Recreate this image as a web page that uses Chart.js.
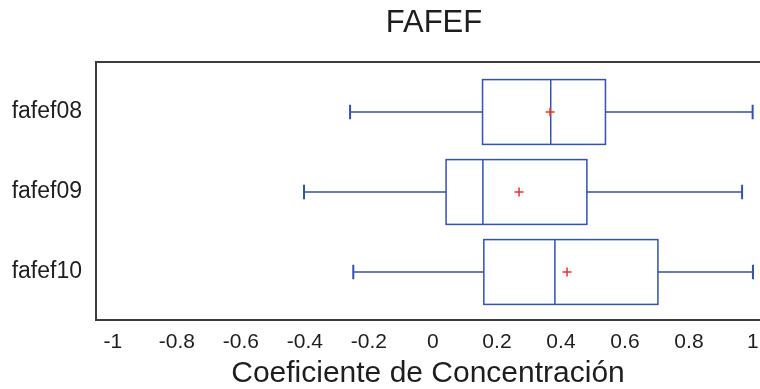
<!DOCTYPE html>
<html>
<head>
<meta charset="utf-8">
<script src="https://cdn.jsdelivr.net/npm/chart.js@4/dist/chart.umd.min.js"></script>
<style>
  html, body { margin: 0; padding: 0; background: #fff; }
  #wrap { width: 760px; height: 389px; }
</style>
</head>
<body>
<div id="wrap"><canvas id="chart"></canvas></div>
<script>
// values
const categories = ['fafef08', 'fafef09', 'fafef10'];
const minVals    = [-0.259, -0.403, -0.249];
const q1Vals     = [0.155, 0.041, 0.159];
const medianVals = [0.368, 0.156, 0.381];
const q3Vals     = [0.539, 0.481, 0.703];
const maxVals    = [0.999, 0.966, 1.0];
const meanVals   = [0.366, 0.269, 0.419];
const xTicks     = [-1, -0.8, -0.6, -0.4, -0.2, 0, 0.2, 0.4, 0.6, 0.8, 1];

const FONT = 'Liberation Sans, Arial, sans-serif';
const BLUE = '#3152b0';

const boxPlugin = {
    id: 'boxes',
    beforeDatasetsDraw(chart) {
        const { ctx: c, scales } = chart;
        const { x, y } = scales;
        c.save();
        c.strokeStyle = BLUE;
        categories.forEach((cat, i) => {
            const row = i + 1;
            const yc = y.getPixelForValue(row);
            const yTop = y.getPixelForValue(row - 0.405);
            const yBot = y.getPixelForValue(row + 0.405);
            const capTop = y.getPixelForValue(row - 0.09);
            const capBot = y.getPixelForValue(row + 0.09);
            const xMin = x.getPixelForValue(minVals[i]);
            const xQ1 = x.getPixelForValue(q1Vals[i]);
            const xMed = x.getPixelForValue(medianVals[i]);
            const xQ3 = x.getPixelForValue(q3Vals[i]);
            const xMax = x.getPixelForValue(maxVals[i]);

            // whiskers
            c.lineWidth = 1.5;
            c.beginPath();
            c.moveTo(xMin, yc); c.lineTo(xQ1, yc);
            c.moveTo(xQ3, yc); c.lineTo(xMax, yc);
            c.stroke();
            c.lineWidth = 2;
            c.beginPath();
            c.moveTo(xMin, capTop); c.lineTo(xMin, capBot);
            c.moveTo(xMax, capTop); c.lineTo(xMax, capBot);
            c.stroke();

            // box + median
            c.lineWidth = 1.5;
            c.strokeRect(xQ1, yTop, xQ3 - xQ1, yBot - yTop);
            c.beginPath();
            c.moveTo(xMed, yTop); c.lineTo(xMed, yBot);
            c.stroke();
        });
        c.restore();
    },
    afterDraw(chart) {
        const { ctx: c, chartArea } = chart;
        const { left, top, right, bottom } = chartArea;
        c.save();
        // frame: left, top, bottom (right edge runs off the canvas)
        c.strokeStyle = '#3c3c3c';
        c.lineWidth = 2;
        c.beginPath();
        c.moveTo(right, top); c.lineTo(left, top);
        c.lineTo(left, bottom); c.lineTo(right, bottom);
        c.stroke();
        // title
        c.fillStyle = '#1e1e1e';
        c.font = '31px ' + FONT;
        c.textAlign = 'center';
        c.textBaseline = 'middle';
        c.fillText('FAFEF', 434, 23);
        c.restore();
    }
};

new Chart(document.getElementById('chart'), {
    type: 'scatter',
    data: {
        datasets: [{
            label: 'Media',
            data: meanVals.map((v, i) => ({ x: v, y: i + 1 })),
            pointStyle: 'cross',
            pointRadius: 4.5,
            pointBorderWidth: 1.5,
            borderColor: '#ff2a2a',
            backgroundColor: '#ff2a2a',
        }]
    },
    options: {
        responsive: true,
        maintainAspectRatio: false,
        animation: false,
        layout: { autoPadding: false, padding: { top: 62, left: 0, right: 0, bottom: 0 } },
        plugins: {
            legend: { display: false },
            tooltip: { enabled: false },
            title: { display: false }
        },
        scales: {
            x: {
                type: 'linear',
                min: -1.053,
                max: 1.022,
                afterBuildTicks: s => { s.ticks = xTicks.map(v => ({ value: v })); },
                afterFit: s => { s.height = 69; s.paddingLeft = 0; s.paddingRight = 0; },
                ticks: {
                    color: '#1e1e1e',
                    font: { family: FONT, size: 21 },
                    padding: 10,
                    maxRotation: 0,
                    autoSkip: false,
                    callback: v => String(v),
                },
                grid: { display: false, drawTicks: false },
                border: { display: false },
                title: {
                    display: true,
                    text: 'Coeficiente de Concentración',
                    color: '#1e1e1e',
                    font: { family: FONT, size: 30 },
                    padding: { top: 0, bottom: -3 }
                }
            },
            y: {
                type: 'linear',
                reverse: true,
                min: 0.375,
                max: 3.6,
                afterBuildTicks: s => { s.ticks = categories.map((c, i) => ({ value: i + 1 })); },
                afterFit: s => { s.width = 96; },
                ticks: {
                    color: '#1e1e1e',
                    font: { family: FONT, size: 23 },
                    padding: 14,
                    callback: v => categories[v - 1],
                },
                grid: { display: false, drawTicks: false },
                border: { display: false }
            }
        }
    },
    plugins: [boxPlugin]
});
</script>
</body>
</html>
